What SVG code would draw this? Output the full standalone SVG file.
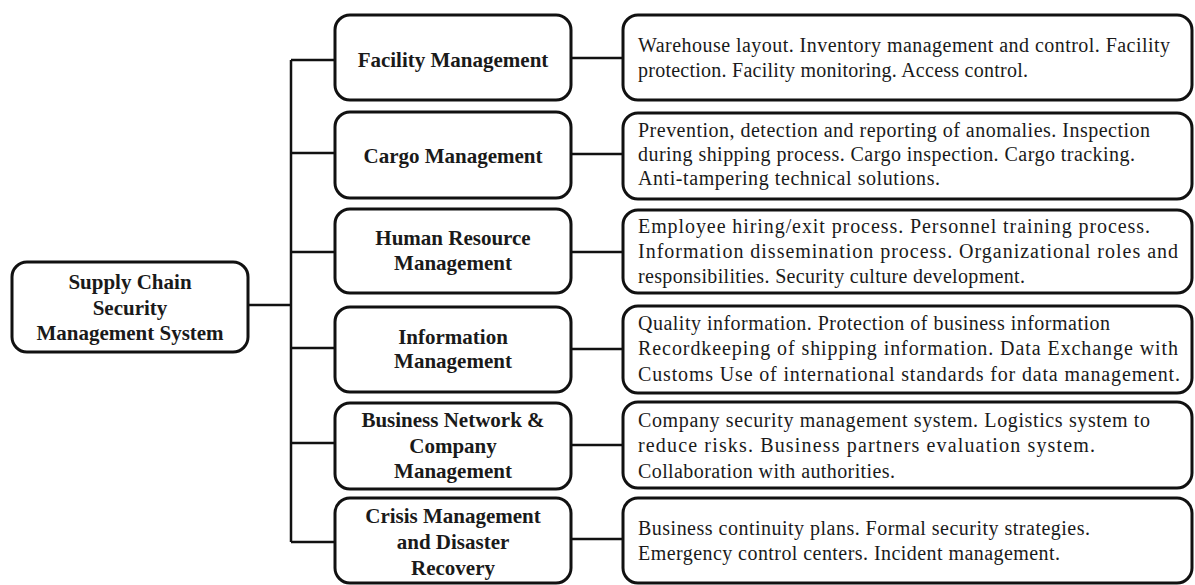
<svg xmlns="http://www.w3.org/2000/svg" width="1195" height="585" viewBox="0 0 1195 585">
<style>
.box{fill:#fff;stroke:#111;stroke-width:3}
.con{fill:none;stroke:#111;stroke-width:2.5}
.h{font-family:"Liberation Serif","Times New Roman",serif;font-weight:bold;font-size:21px;fill:#1a1a1a;text-anchor:middle}
.d{font-family:"Liberation Serif","Times New Roman",serif;font-size:20px;fill:#1a1a1a}
</style>
<rect width="1195" height="585" fill="#fff"/>
<g id="connectors">
<path class="con" d="M248 305H291M291 60V542M291 60H335M291 153H335M291 252H335M291 348H335M291 443H335M291 542H335"/>
<path class="con" d="M571 58H623M571 154H623M571 252H623M571 349H623M571 445H623M571 539H623"/>
</g>
<g id="root">
<rect class="box" x="12" y="262" width="236" height="90" rx="15"/>
<text class="h" x="130" y="289">Supply Chain</text>
<text class="h" x="130" y="315">Security</text>
<text class="h" x="130" y="340">Management System</text>
</g>
<g id="facility">
<rect class="box" x="335" y="15" width="236" height="85" rx="15"/>
<text class="h" x="453" y="67">Facility Management</text>
</g>
<g id="cargo">
<rect class="box" x="335" y="112" width="236" height="86" rx="15"/>
<text class="h" x="453" y="163">Cargo Management</text>
</g>
<g id="human">
<rect class="box" x="335" y="209" width="236" height="84" rx="15"/>
<text class="h" x="453" y="245">Human Resource</text>
<text class="h" x="453" y="270">Management</text>
</g>
<g id="information">
<rect class="box" x="335" y="307" width="236" height="85" rx="15"/>
<text class="h" x="453" y="344">Information</text>
<text class="h" x="453" y="368">Management</text>
</g>
<g id="business">
<rect class="box" x="335" y="403" width="236" height="86" rx="15"/>
<text class="h" x="453" y="427">Business Network &amp;</text>
<text class="h" x="453" y="453">Company</text>
<text class="h" x="453" y="478">Management</text>
</g>
<g id="crisis">
<rect class="box" x="335" y="498" width="236" height="85" rx="15"/>
<text class="h" x="453" y="523">Crisis Management</text>
<text class="h" x="453" y="549">and Disaster</text>
<text class="h" x="453" y="575">Recovery</text>
</g>
<g id="facility-desc">
<rect class="box" x="623" y="15" width="569" height="85" rx="15"/>
<text class="d" x="638" y="52" textLength="532" lengthAdjust="spacing">Warehouse layout. Inventory management and control. Facility</text>
<text class="d" x="638" y="77" textLength="390" lengthAdjust="spacing">protection. Facility monitoring. Access control.</text>
</g>
<g id="cargo-desc">
<rect class="box" x="623" y="113" width="569" height="86" rx="15"/>
<text class="d" x="638" y="137" textLength="512" lengthAdjust="spacing">Prevention, detection and reporting of anomalies. Inspection</text>
<text class="d" x="638" y="161" textLength="497" lengthAdjust="spacing">during shipping process. Cargo inspection. Cargo tracking.</text>
<text class="d" x="638" y="185" textLength="302" lengthAdjust="spacing">Anti-tampering technical solutions.</text>
</g>
<g id="human-desc">
<rect class="box" x="623" y="210" width="569" height="83" rx="15"/>
<text class="d" x="638" y="233" textLength="512" lengthAdjust="spacing">Employee hiring/exit process. Personnel training process.</text>
<text class="d" x="638" y="258" textLength="540" lengthAdjust="spacing">Information dissemination process. Organizational roles and</text>
<text class="d" x="638" y="283" textLength="387" lengthAdjust="spacing">responsibilities. Security culture development.</text>
</g>
<g id="information-desc">
<rect class="box" x="623" y="306" width="569" height="87" rx="15"/>
<text class="d" x="638" y="330" textLength="472" lengthAdjust="spacing">Quality information. Protection of business information</text>
<text class="d" x="638" y="355" textLength="540" lengthAdjust="spacing">Recordkeeping of shipping information. Data Exchange with</text>
<text class="d" x="638" y="381" textLength="542" lengthAdjust="spacing">Customs Use of international standards for data management.</text>
</g>
<g id="business-desc">
<rect class="box" x="623" y="402" width="569" height="86" rx="15"/>
<text class="d" x="638" y="427" textLength="512" lengthAdjust="spacing">Company security management system. Logistics system to</text>
<text class="d" x="638" y="452" textLength="457" lengthAdjust="spacing">reduce risks. Business partners evaluation system.</text>
<text class="d" x="638" y="478" textLength="257" lengthAdjust="spacing">Collaboration with authorities.</text>
</g>
<g id="crisis-desc">
<rect class="box" x="623" y="498" width="569" height="85" rx="15"/>
<text class="d" x="638" y="535" textLength="452" lengthAdjust="spacing">Business continuity plans. Formal security strategies.</text>
<text class="d" x="638" y="560" textLength="422" lengthAdjust="spacing">Emergency control centers. Incident management.</text>
</g>
</svg>
